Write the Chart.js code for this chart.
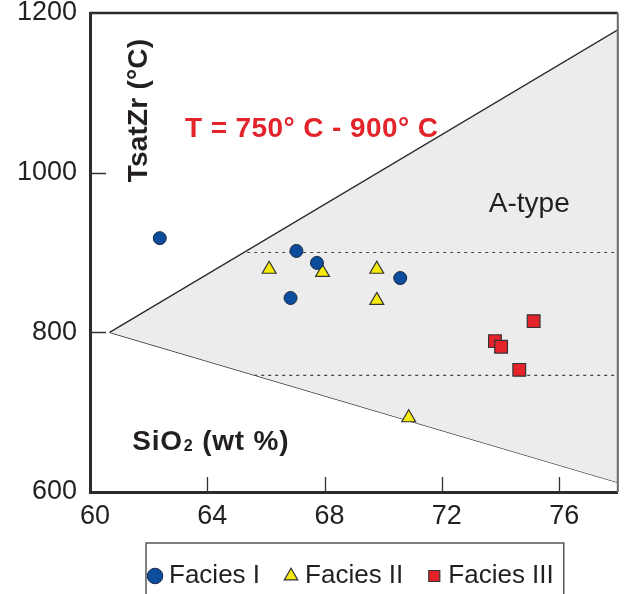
<!DOCTYPE html>
<html>
<head>
<meta charset="utf-8">
<script src="https://cdn.jsdelivr.net/npm/chart.js@4/dist/chart.umd.min.js"></script>
<style>
  html, body { margin:0; padding:0; background:#fff; }
  #wrap { width:628px; height:594px; }
</style>
</head>
<body>
<div id="wrap"><canvas id="chart" width="628" height="594"></canvas></div>
<script>
// ── zircon saturation temperature vs SiO2 ───────────────────────────────────
const FONT = '"Liberation Sans", Arial, Helvetica, sans-serif';
const INK = "#231f20";

const xTicks = [60, 64, 68, 72, 76];
const yTicks = [600, 800, 1000, 1200];

const faciesIx = [62.38, 67.04, 67.74, 66.84, 70.58];
const faciesIy = [918, 902, 887, 843, 868];
const faciesIIx = [66.11, 67.93, 69.78, 69.78, 70.87];
const faciesIIy = [879, 875, 879, 840, 693];
const faciesIIIx = [75.13, 73.81, 74.02, 74.64];
const faciesIIIy = [814, 789, 782, 753];

// A-type field wedge and the 750 / 900 °C guides
const fieldX = [60.67, 78];
const fieldTopY = [800, 1179];
const fieldBotY = [800, 612];
const hotX = [65.36, 78], hotY = [900, 900];
const coolX = [65.6, 78], coolY = [746, 746];

const pts = (xs, ys) => xs.map((x, i) => ({ x, y: ys[i] }));

const notes = {
  id: "notes",
  afterDatasetsDraw(chart){
    const { ctx, scales:{ x, y }, chartArea:a } = chart;
    ctx.save();
    // inward tick marks
    ctx.strokeStyle = "#333"; ctx.lineWidth = 1.3;
    ctx.beginPath();
    x.ticks.forEach(t => { if (t.value > x.min && t.value < x.max) {
      const p = Math.round(x.getPixelForValue(t.value)) + 0.5;
      ctx.moveTo(p, a.bottom); ctx.lineTo(p, a.bottom - 15);
    }});
    y.ticks.forEach(t => { if (t.value > y.min && t.value < y.max) {
      const p = Math.round(y.getPixelForValue(t.value)) + 0.5;
      ctx.moveTo(a.left, p); ctx.lineTo(a.left + 16, p);
    }});
    ctx.stroke();

    // frame top / right
    ctx.lineWidth = 2.5; ctx.strokeStyle = "#2b2b2b";
    ctx.beginPath(); ctx.moveTo(a.left, a.top); ctx.lineTo(a.right, a.top); ctx.stroke();
    ctx.lineWidth = 2; ctx.strokeStyle = "#6a6a6a";
    ctx.beginPath(); ctx.moveTo(a.right, a.top); ctx.lineTo(a.right, a.bottom); ctx.stroke();

    ctx.textBaseline = "alphabetic"; ctx.textAlign = "left";
    ctx.fillStyle = "#e3242b";
    ctx.font = `bold 28px ${FONT}`;
    ctx.letterSpacing = "0.4px";
    ctx.fillText("T = 750° C - 900° C", x.getPixelForValue(63.24), y.getPixelForValue(1045));

    ctx.fillStyle = INK;
    ctx.letterSpacing = "0px";
    ctx.font = `28px ${FONT}`;
    ctx.fillText("A-type", x.getPixelForValue(73.6), y.getPixelForValue(951));

    ctx.letterSpacing = "0.8px";
    ctx.font = `bold 28px ${FONT}`;
    let px = x.getPixelForValue(61.44), py = y.getPixelForValue(652);
    ctx.fillText("SiO", px, py); px += ctx.measureText("SiO").width + 1;
    ctx.font = `bold 16px ${FONT}`;
    ctx.fillText("2", px, py + 1); px += ctx.measureText("2").width;
    ctx.font = `bold 28px ${FONT}`;
    ctx.fillText(" (wt %)", px, py);

    ctx.letterSpacing = "0.2px";
    ctx.translate(x.getPixelForValue(61.95), y.getPixelForValue(988));
    ctx.rotate(-Math.PI / 2);
    ctx.fillText("TsatZr (°C)", 0, 0);
    ctx.restore();
  },
  afterDraw(chart){
    const hb = chart.legend.legendHitBoxes;
    if (!hb || !hb.length) return;
    const { ctx } = chart, last = hb[hb.length - 1];
    const l = hb[0].left - 8, r = last.left + last.width + 10, t = hb[0].top - 20;
    ctx.save();
    ctx.strokeStyle = "#555"; ctx.lineWidth = 1.5;
    ctx.strokeRect(l, t, r - l, chart.height - t + 10);
    ctx.restore();
  }
};

const axisCommon = {
  border:{ display:true, color:"#2b2b2b", width:3 },
  grid:{ drawOnChartArea:false, drawTicks:false },
};

new Chart(document.getElementById("chart"), {
  type:"scatter",
  data:{
    datasets:[
      { label:"Facies I", data:pts(faciesIx, faciesIy), pointStyle:"circle", pointRadius:6.5,
        backgroundColor:"#0b4c9c", borderColor:"#1d2a44", borderWidth:1 },
      { label:"Facies II", data:pts(faciesIIx, faciesIIy), pointStyle:"triangle", pointRadius:8,
        backgroundColor:"#f6ea0c", borderColor:"#333", borderWidth:1.2 },
      { label:"Facies III", data:pts(faciesIIIx, faciesIIIy), pointStyle:"rect", pointRadius:9,
        backgroundColor:"#e4232a", borderColor:"#333", borderWidth:1.2 },
      { label:"900", data:pts(hotX, hotY), showLine:true, pointRadius:0,
        borderColor:"#444", borderWidth:1.2, borderDash:[3,4] },
      { label:"750", data:pts(coolX, coolY), showLine:true, pointRadius:0,
        borderColor:"#444", borderWidth:1.2, borderDash:[3,4] },
      { label:"fieldTop", data:pts(fieldX, fieldTopY), showLine:true, pointRadius:0,
        borderColor:"#2a2a2a", borderWidth:1.3, fill:"+1", backgroundColor:"#ececec" },
      { label:"fieldBot", data:pts(fieldX, fieldBotY), showLine:true, pointRadius:0,
        borderColor:"#2a2a2a", borderWidth:1.3, fill:false },
    ],
  },
  options:{
    responsive:false, animation:false,
    layout:{ padding:{ top:13, right:1, left:0, bottom:0 } },
    scales:{
      x:{ type:"linear", min:60, max:78, ...axisCommon,
        afterBuildTicks: s => { s.ticks = xTicks.map(v => ({ value:v })); },
        afterFit: s => { s.height = 41; s.paddingLeft = 0; s.paddingRight = 0; },
        ticks:{ color:INK, font:{ family:FONT, size:27 }, padding:8, labelOffset:5, maxRotation:0,
          callback: v => String(v) } },
      y:{ type:"linear", min:600, max:1200, ...axisCommon,
        afterBuildTicks: s => { s.ticks = yTicks.map(v => ({ value:v })); },
        afterFit: s => { s.width = 90; s.paddingTop = 0; s.paddingBottom = 0; },
        ticks:{ color:INK, font:{ family:FONT, size:27 }, padding:13, callback: v => String(v) } },
    },
    plugins:{
      tooltip:{ enabled:false },
      legend:{
        position:"bottom", fullSize:false, maxHeight:61,
        labels:{ usePointStyle:true, boxHeight:11, boxWidth:2, padding:30, color:INK,
          font:{ family:FONT, size:26 },
          filter: item => item.datasetIndex < 3 },
      },
    },
  },
  plugins:[notes],
});
</script>
</body>
</html>
